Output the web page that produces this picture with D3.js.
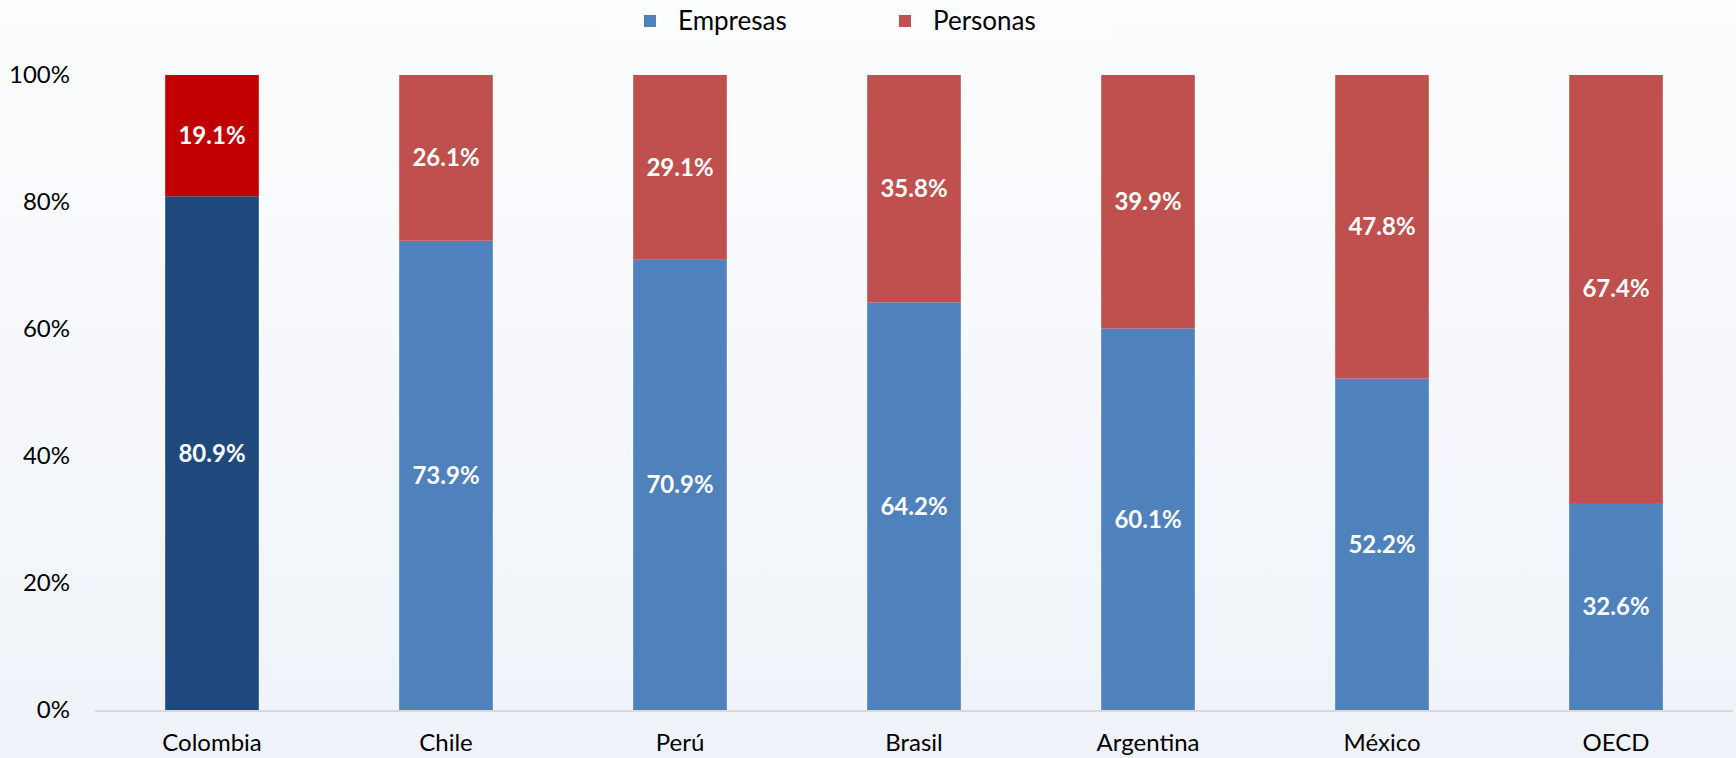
<!DOCTYPE html>
<html>
<head>
<meta charset="utf-8">
<script src="https://cdn.jsdelivr.net/npm/d3@7"></script>
<style>
  body { margin: 0; background: #fff; }
  svg { display: block; font-family: "Lato", "Open Sans", sans-serif; }
</style>
</head>
<body>
<div id="chart"></div>
<script>
// values
const paises = ["Colombia", "Chile", "Perú", "Brasil", "Argentina", "México", "OECD"];
const empresas = [80.9, 73.9, 70.9, 64.2, 60.1, 52.2, 32.6];
const personas = [19.1, 26.1, 29.1, 35.8, 39.9, 47.8, 67.4];
const yTicks = [0, 20, 40, 60, 80, 100];
const series = ["Empresas", "Personas"];

const width = 1736, height = 758;
const margin = {top: 75, right: 3, bottom: 48, left: 95};

const svg = d3.select("#chart").append("svg")
  .attr("width", width)
  .attr("height", height);

// soft background gradient
const grad = svg.append("defs").append("linearGradient")
  .attr("id", "bg").attr("x1", 0).attr("y1", 0).attr("x2", 0).attr("y2", 1);
grad.append("stop").attr("offset", "0%").attr("stop-color", "#fcfdfe");
grad.append("stop").attr("offset", "100%").attr("stop-color", "#eff3f9");
svg.append("rect").attr("width", width).attr("height", height).attr("fill", "url(#bg)");

const x = d3.scaleBand()
  .domain(paises)
  .range([margin.left, width - margin.right])
  .paddingInner(0.6)
  .paddingOuter(0.3);

const y = d3.scaleLinear()
  .domain([0, 100])
  .range([height - margin.bottom, margin.top]);

const rows = paises.map((p, i) => ({pais: p, Empresas: empresas[i], Personas: personas[i]}));
const stacked = d3.stack().keys(series)(rows);

function colorFor(key, pais) {
  if (pais === "Colombia") return key === "Empresas" ? "#1f497d" : "#c00000";
  return key === "Empresas" ? "#4f81bd" : "#c0504d";
}

const layers = svg.selectAll("g.layer")
  .data(stacked)
  .enter().append("g")
  .attr("class", "layer");

layers.selectAll("rect")
  .data(d => d.map(v => ({key: d.key, v: v})))
  .enter().append("rect")
  .attr("x", d => x(d.v.data.pais))
  .attr("width", x.bandwidth())
  .attr("y", d => y(d.v[1]))
  .attr("height", d => y(d.v[0]) - y(d.v[1]))
  .attr("fill", d => colorFor(d.key, d.v.data.pais));

layers.selectAll("text")
  .data(d => d.map(v => ({key: d.key, v: v})))
  .enter().append("text")
  .attr("x", d => x(d.v.data.pais) + x.bandwidth() / 2)
  .attr("y", d => y((d.v[0] + d.v[1]) / 2))
  .attr("dy", "0.35em")
  .attr("text-anchor", "middle")
  .attr("fill", "#fff")
  .attr("font-weight", "bold")
  .attr("font-size", 24)
  .text(d => (d.v[1] - d.v[0]).toFixed(1) + "%");

// baseline
svg.append("line")
  .attr("x1", margin.left).attr("x2", width - margin.right)
  .attr("y1", y(0) + 1).attr("y2", y(0) + 1)
  .attr("stroke", "#d9d9d9").attr("stroke-width", 2);

// y axis
const yAxis = svg.append("g")
  .attr("transform", `translate(${margin.left - 22},0)`)
  .call(d3.axisLeft(y).tickValues(yTicks).tickFormat(d => d + "%").tickSize(0));
yAxis.select(".domain").remove();
yAxis.selectAll("text").attr("font-size", 24).attr("fill", "#000")
  .attr("font-family", "Lato, sans-serif");

// x axis
const xAxis = svg.append("g")
  .attr("transform", `translate(0,${y(0)})`)
  .call(d3.axisBottom(x).tickSize(0).tickPadding(24));
xAxis.select(".domain").remove();
xAxis.selectAll("text").attr("font-size", 24).attr("fill", "#000")
  .attr("font-family", "Lato, sans-serif");

// legend
const legendX = [644, 899];
svg.append("rect").attr("x", 600).attr("y", 0).attr("width", 510).attr("height", 40)
  .attr("fill", "#fdfeff");
const leg = svg.selectAll("g.leg")
  .data(series)
  .enter().append("g")
  .attr("class", "leg")
  .attr("transform", (d, i) => `translate(${legendX[i]},15)`);
leg.append("rect").attr("width", 12).attr("height", 12)
  .attr("fill", d => colorFor(d, ""));
leg.append("text")
  .attr("x", 34).attr("y", 6).attr("dy", "0.35em")
  .attr("font-size", 26)
  .text(d => d);
</script>
</body>
</html>
